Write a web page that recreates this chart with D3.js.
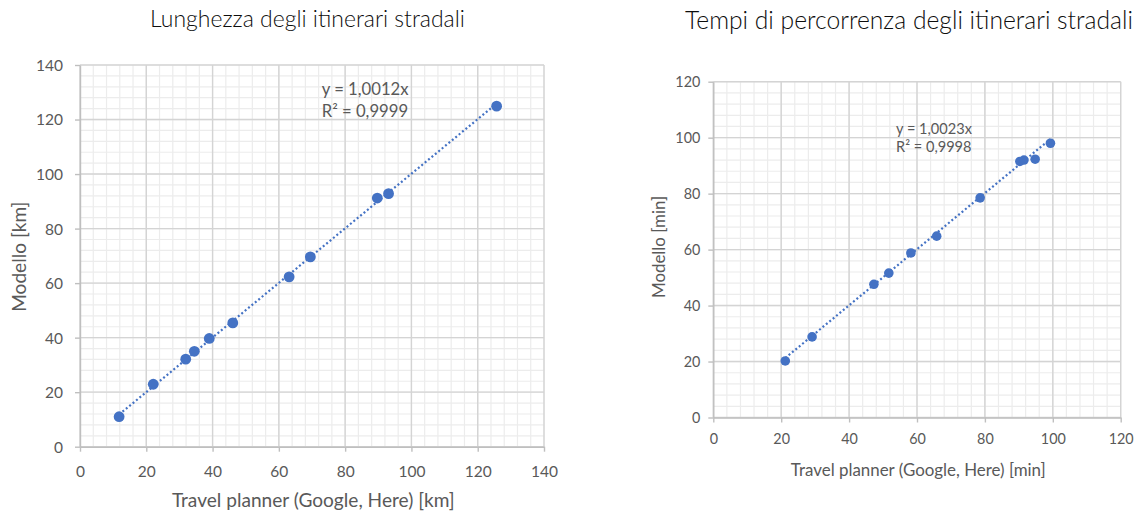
<!DOCTYPE html>
<html>
<head>
<meta charset="utf-8">
<script src="https://cdn.jsdelivr.net/npm/d3@7"></script>
<style>
body{margin:0;background:#fff;}
text{font-family:Lato,"Open Sans",sans-serif;}
</style>
</head>
<body>
<svg id="chart" width="1140" height="514"></svg>
<script>
// lunghezza (km)
var kmPlanner=[11.8,22.1,31.9,34.5,39.0,46.1,63.1,69.5,89.7,93.1,125.7];
var kmModel=[11.0,22.9,32.1,35.0,39.7,45.4,62.3,69.6,91.2,92.8,124.9];
var kmTicks=[0,20,40,60,80,100,120,140];
var kmSlope=1.0012;
var kmEq=["y = 1,0012x","R\u00b2 = 0,9999"];

// tempi (min)
var minPlanner=[21.2,29.1,47.3,51.7,58.2,65.8,78.6,90.3,91.5,94.8,99.3];
var minModel=[20.2,28.8,47.6,51.6,58.8,64.8,78.5,91.5,92.0,92.3,98.0];
var minTicks=[0,20,40,60,80,100,120];
var minSlope=1.0023;
var minEq=["y = 1,0023x","R\u00b2 = 0,9998"];

var titles=["Lunghezza degli itinerari stradali","Tempi di percorrenza degli itinerari stradali"];
var xTitles=["Travel planner (Google, Here) [km]","Travel planner (Google, Here) [min]"];
var yTitles=["Modello [km]","Modello [min]"];

var svg=d3.select("#chart");
var blue="#4472C4";

function fit(sel,w){ // scale font so text is w px wide
	var fs=parseFloat(sel.style("font-size"));
	var len=sel.node().getComputedTextLength();
	sel.style("font-size",(fs*w/len)+"px");
	return fs*w/len;
}

function drawChart(xs,ys,ticks,slope,eq,title,xt,yt,L){
	var x=d3.scaleLinear().domain([0,d3.max(ticks)]).range([L.x0,L.x1]);
	var y=d3.scaleLinear().domain([0,d3.max(ticks)]).range([L.y0,L.y1]);
	var g=svg.append("g");
	var minor=d3.range(0,d3.max(ticks)+0.01,4);

	//minor grid
	g.selectAll(".mx").data(minor).enter().append("line")
		.attr("x1",d=>x(d)).attr("x2",d=>x(d)).attr("y1",L.y0).attr("y2",L.y1)
		.attr("stroke","#ececec").attr("stroke-width",1.2);
	g.selectAll(".my").data(minor).enter().append("line")
		.attr("y1",d=>y(d)).attr("y2",d=>y(d)).attr("x1",L.x0).attr("x2",L.x1)
		.attr("stroke","#ececec").attr("stroke-width",1.2);
	//major grid
	g.selectAll(".gx").data(ticks).enter().append("line")
		.attr("x1",d=>x(d)).attr("x2",d=>x(d)).attr("y1",L.y0).attr("y2",L.y1)
		.attr("stroke","#d4d4d4").attr("stroke-width",1.4);
	g.selectAll(".gy").data(ticks).enter().append("line")
		.attr("y1",d=>y(d)).attr("y2",d=>y(d)).attr("x1",L.x0).attr("x2",L.x1)
		.attr("stroke","#d4d4d4").attr("stroke-width",1.4);

	//axes
	var ax=g.append("g").attr("transform","translate(0,"+L.y0+")")
		.call(d3.axisBottom(x).tickValues(ticks).tickSize(5).tickSizeOuter(0));
	var ay=g.append("g").attr("transform","translate("+L.x0+",0)")
		.call(d3.axisLeft(y).tickValues(ticks).tickSize(5).tickSizeOuter(0));
	[ax,ay].forEach(function(a){
		a.select(".domain").attr("stroke","#bfbfbf").attr("stroke-width",1.4);
		a.selectAll(".tick line").attr("stroke","#bfbfbf").attr("stroke-width",1.4);
		a.selectAll("text").attr("fill","#595959").style("font-size","15px")
			.attr("font-family",null);
	});
	// size labels so the widest one matches
	var last=ay.selectAll("text").filter(d=>d==d3.max(ticks));
	var tfs=fit(last,L.tickW);
	ax.selectAll("text").style("font-size",tfs+"px").attr("y",L.xLabOff).attr("dy",null);
	ay.selectAll("text").style("font-size",tfs+"px").attr("x",-L.yLabOff).attr("dy","0.35em");

	//trendline
	var ext=d3.extent(xs);
	g.append("line")
		.attr("x1",x(ext[0])).attr("y1",y(ext[0]*slope))
		.attr("x2",x(ext[1])).attr("y2",y(ext[1]*slope))
		.attr("stroke",blue).attr("stroke-width",2.2)
		.attr("stroke-dasharray","2,2.4");

	//points
	g.selectAll("circle").data(xs).enter().append("circle")
		.attr("cx",d=>x(d)).attr("cy",(d,i)=>y(ys[i]))
		.attr("r",L.r).attr("fill",blue);

	//equation
	var e1=g.append("text").attr("x",L.eqX).attr("y",L.eqY).attr("fill","#595959")
		.style("font-size","14px").text(eq[0]);
	var fs=fit(e1,L.eqW);
	g.append("text").attr("x",L.eqX).attr("y",L.eqY+L.eqDy).attr("fill","#595959")
		.style("font-size",fs+"px").text(eq[1]);

	//titles
	var t=g.append("text").attr("x",L.tX).attr("y",L.tY).attr("text-anchor","middle")
		.attr("fill","#0d0d0d").style("font-size","18px").style("font-weight",300).text(title);
	fit(t,L.tW);
	var xl=g.append("text").attr("x",L.xtX).attr("y",L.xtY).attr("text-anchor","middle")
		.attr("fill","#595959").style("font-size","16px").text(xt);
	var xfs=fit(xl,L.xtW);
	g.append("text").attr("transform","translate("+L.ytX+","+L.ytY+") rotate(-90)")
		.attr("text-anchor","middle").attr("fill","#595959")
		.style("font-size",xfs+"px").text(yt);
}

drawChart(kmPlanner,kmModel,kmTicks,kmSlope,kmEq,titles[0],xTitles[0],yTitles[0],
	{x0:80,x1:544,y0:446.7,y1:65,tickW:27,xLabOff:30,yLabOff:17,r:5.4,
	 eqX:321.7,eqY:94.5,eqW:87,eqDy:22,tX:307.5,tY:26.7,tW:315,
	 xtX:313.3,xtY:507,xtW:283,ytX:26,ytY:256.7});

drawChart(minPlanner,minModel,minTicks,minSlope,minEq,titles[1],xTitles[1],yTitles[1],
	{x0:713.3,x1:1120.7,y0:417.5,y1:81.7,tickW:25,xLabOff:26.5,yLabOff:13,r:4.8,
	 eqX:896,eqY:134,eqW:76,eqDy:18.3,tX:909,tY:29.3,tW:448,
	 xtX:918.3,xtY:476,xtW:255,ytX:665,ytY:247});
</script>
</body>
</html>
